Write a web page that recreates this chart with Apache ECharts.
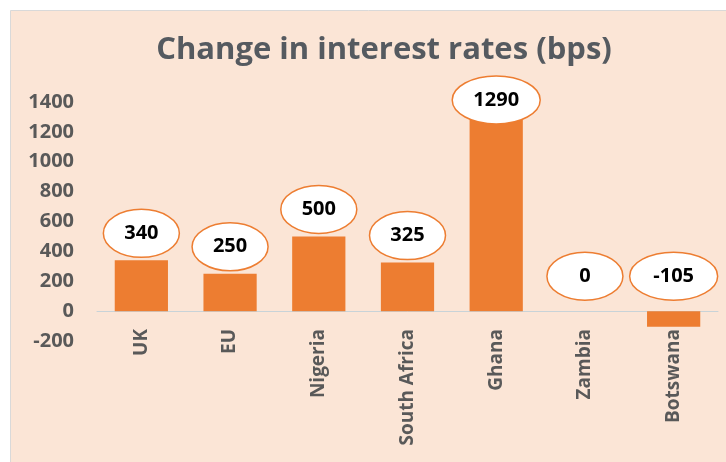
<!DOCTYPE html>
<html>
<head>
<meta charset="utf-8">
<script src="https://cdn.jsdelivr.net/npm/echarts@6/dist/echarts.min.js"></script>
<style>
  html, body { margin: 0; padding: 0; background: #fff; }
  #main { position: absolute; left: 0; top: 0; width: 726px; height: 462px; }
</style>
</head>
<body>
<div id="main"></div>
<script>
// data
var countries = ['UK', 'EU', 'Nigeria', 'South Africa', 'Ghana', 'Zambia', 'Botswana'];
var rateChange = [340, 250, 500, 325, 1290, 0, -105];   // bps
var yMin = -200, yMax = 1400, yStep = 200;

var chart = echarts.init(document.getElementById('main'));

var orange = '#ED7D31';
var grey = '#595959';
var fontFam = '"Open Sans", sans-serif';

// points for the ellipse labels
var labelPts = countries.map(function (c, i) { return [i, rateChange[i]]; });

var option = {
  backgroundColor: '#fff',
  animation: false,
  graphic: [{
    type: 'rect', left: 10, top: 10, z: -10,
    shape: { width: 716, height: 452 },
    style: { fill: '#FBE5D6', stroke: '#D9D9D9', lineWidth: 1 }
  }],
  title: {
    text: 'Change in interest rates (bps)',
    left: 379, top: 30, textAlign: 'center',
    textStyle: { fontFamily: fontFam, fontWeight: 'bold', fontSize: 31, color: '#555a60' }
  },
  grid: { left: 97, right: 8, top: 102, bottom: 121, outerBoundsMode: 'none', containLabel: false },
  xAxis: {
    type: 'category',
    data: countries,
    axisLine: { onZero: true, lineStyle: { color: '#C8D3D8', width: 1 } },
    axisTick: { show: false },
    axisLabel: {
      rotate: 90, margin: -12, interval: 0,
      align: 'right', verticalAlign: 'middle',
      fontFamily: fontFam, fontWeight: 'bold', fontSize: 19, color: grey
    }
  },
  yAxis: {
    type: 'value',
    min: yMin, max: yMax, interval: yStep,
    axisLine: { show: false },
    axisTick: { show: false },
    splitLine: { show: false },
    axisLabel: {
      margin: 23, fontFamily: fontFam, fontWeight: 'bold', fontSize: 20, color: grey,
      formatter: function (v) { return String(v); }
    }
  },
  series: [
    {
      type: 'bar',
      data: rateChange,
      barWidth: '60%',
      itemStyle: { color: orange }
    },
    {
      type: 'custom',
      data: labelPts,
      encode: { x: 0, y: 1 },
      z: 5,
      renderItem: function (params, api) {
        var v = api.value(1);
        var p = api.coord([api.value(0), Math.max(v, 0)]);
        var cy = v > 0 ? p[1] - 27 : p[1] - 35;
        // keep label inside the plot like Excel does
        cy = Math.max(cy, params.coordSys.y - 2);
        var txt = String(v);
        var rx = txt.length > 3 ? 44 : 38;
        return {
          type: 'group',
          children: [
            {
              type: 'ellipse',
              shape: { cx: p[0], cy: cy, rx: rx, ry: 24 },
              style: { fill: '#fff', stroke: orange, lineWidth: 1.5 }
            },
            {
              type: 'text',
              x: p[0], y: cy,
              style: {
                text: txt, align: 'center', verticalAlign: 'middle',
                font: 'bold 20px ' + fontFam, fill: '#000'
              }
            }
          ]
        };
      }
    }
  ]
};

chart.setOption(option);
</script>
</body>
</html>
